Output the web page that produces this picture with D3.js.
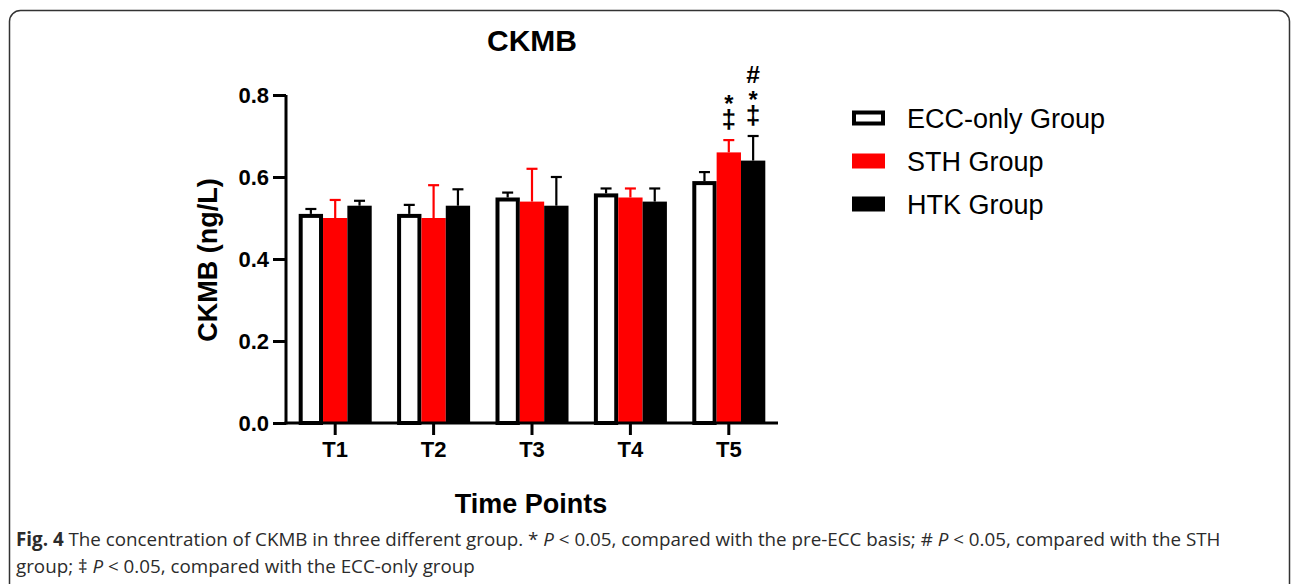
<!DOCTYPE html>
<html>
<head>
<meta charset="utf-8">
<script src="https://cdn.jsdelivr.net/npm/d3@7"></script>
<style>
  body { margin: 0; background: #fff; }
  svg { display: block; }
  .caption { font-family: 'Open Sans', sans-serif; font-size: 18.8px; fill: #2b2b2b; }
</style>
</head>
<body>
<svg id="chart"></svg>
<script>
const SVG_WIDTH = 1292;
const SVG_HEIGHT = 584;

// Data.
const timePoints = ['T1', 'T2', 'T3', 'T4', 'T5'];
const groups = ['ECC-only Group', 'STH Group', 'HTK Group'];
const eccMeans = [0.51, 0.51, 0.55, 0.56, 0.59];
const eccErr = [0.012, 0.022, 0.012, 0.012, 0.022];
const sthMeans = [0.50, 0.50, 0.54, 0.55, 0.66];
const sthErr = [0.044, 0.08, 0.08, 0.022, 0.03];
const htkMeans = [0.53, 0.53, 0.53, 0.54, 0.64];
const htkErr = [0.012, 0.04, 0.07, 0.032, 0.06];
const yTicks = [0, 0.2, 0.4, 0.6, 0.8];
// significance marks, stacked from bottom up
const marks = [
  {time: 'T5', group: 'STH Group', symbols: ['‡', '*']},
  {time: 'T5', group: 'HTK Group', symbols: ['‡', '*', '#']}
];

const fills = {'ECC-only Group': '#fff', 'STH Group': '#ff0000', 'HTK Group': '#000'};
const errColors = {'ECC-only Group': '#000', 'STH Group': '#ff0000', 'HTK Group': '#000'};

// glyph settings: wanted ink height and the gap left above it
const glyphs = {
  '‡': {inkHeight: 21, gapAbove: 5},
  '*': {inkHeight: 9, gapAbove: 8},
  '#': {inkHeight: 17, gapAbove: 8}
};
const MARK_FONT = 'Liberation Sans';

const rows = [];
timePoints.forEach((t, i) => {
  rows.push({time: t, group: groups[0], mean: eccMeans[i], err: eccErr[i]});
  rows.push({time: t, group: groups[1], mean: sthMeans[i], err: sthErr[i]});
  rows.push({time: t, group: groups[2], mean: htkMeans[i], err: htkErr[i]});
});

const svg = d3
  .select('#chart')
  .attr('width', SVG_WIDTH)
  .attr('height', SVG_HEIGHT)
  .attr('viewBox', `0 0 ${SVG_WIDTH} ${SVG_HEIGHT}`);

// Figure frame (runs off the bottom of the picture).
svg.append('rect')
  .attr('x', 9.5).attr('y', 10.5)
  .attr('width', 1280).attr('height', 640)
  .attr('rx', 11)
  .attr('fill', 'none')
  .attr('stroke', '#333')
  .attr('stroke-width', 1.5);

const x0 = d3.scaleBand()
  .domain(timePoints)
  .range([286, 778])
  .paddingInner(0.258)
  .paddingOuter(0.129);

const x1 = d3.scaleBand()
  .domain(groups)
  .range([0, x0.bandwidth()]);

const y = d3.scaleLinear().domain([0, 0.8]).range([423, 95]);

const plot = svg.append('g');

// Error bars (drawn first, bars sit over the lower end).
const err = plot.selectAll('.err')
  .data(rows)
  .join('g')
  .attr('class', 'err')
  .attr('stroke', d => errColors[d.group])
  .attr('stroke-width', 2.2);

err.append('line')
  .attr('x1', d => x0(d.time) + x1(d.group) + x1.bandwidth() / 2)
  .attr('x2', d => x0(d.time) + x1(d.group) + x1.bandwidth() / 2)
  .attr('y1', d => y(d.mean))
  .attr('y2', d => y(d.mean + d.err));

err.append('line')
  .attr('x1', d => x0(d.time) + x1(d.group) + x1.bandwidth() / 2 - 5.5)
  .attr('x2', d => x0(d.time) + x1(d.group) + x1.bandwidth() / 2 + 5.5)
  .attr('y1', d => y(d.mean + d.err))
  .attr('y2', d => y(d.mean + d.err));

// Bars
plot.selectAll('.bar')
  .data(rows)
  .join('rect')
  .attr('class', 'bar')
  .attr('x', d => x0(d.time) + x1(d.group) + (d.group === groups[0] ? 2 : 0))
  .attr('width', d => x1.bandwidth() - (d.group === groups[0] ? 4 : 0))
  .attr('y', d => y(d.mean) + (d.group === groups[0] ? 2 : 0))
  .attr('height', d => y(0) - y(d.mean) - (d.group === groups[0] ? 2 : 0))
  .attr('fill', d => fills[d.group])
  .attr('stroke', d => (d.group === groups[0] ? '#000' : 'none'))
  .attr('stroke-width', 4);

// Significance symbols, stacked by their ink extents.
const ctx = document.createElement('canvas').getContext('2d');
function inkOf(s, size) {
  ctx.font = `bold ${size}px "${MARK_FONT}"`;
  const m = ctx.measureText(s);
  return {asc: m.actualBoundingBoxAscent, desc: m.actualBoundingBoxDescent};
}

marks.forEach(m => {
  const row = rows.find(r => r.time === m.time && r.group === m.group);
  const cx = x0(m.time) + x1(m.group) + x1.bandwidth() / 2;
  let bottom = y(row.mean + row.err) - 10;
  m.symbols.forEach(s => {
    const g = glyphs[s];
    const probe = inkOf(s, 100);
    const size = (100 * g.inkHeight) / (probe.asc + probe.desc);
    const ink = inkOf(s, size);
    plot.append('text')
      .attr('x', cx)
      .attr('y', bottom - ink.desc)
      .attr('text-anchor', 'middle')
      .attr('font-family', MARK_FONT)
      .attr('font-weight', 'bold')
      .attr('font-size', size.toFixed(1))
      .attr('fill', '#000')
      .text(s);
    bottom = bottom - ink.desc - ink.asc - g.gapAbove;
  });
});

// Axes
const axisFont = 'Liberation Sans, Arial, sans-serif';

const yAxis = svg.append('g')
  .attr('transform', 'translate(286,0)')
  .call(d3.axisLeft(y).tickValues(yTicks).tickFormat(d3.format('.1f')).tickSize(13).tickPadding(4));

const xAxis = svg.append('g')
  .attr('transform', 'translate(0,423)')
  .call(d3.axisBottom(x0).tickSize(12).tickPadding(6));

[yAxis, xAxis].forEach(a => {
  a.select('.domain').attr('stroke', '#000').attr('stroke-width', 3);
  a.selectAll('.tick line').attr('stroke', '#000').attr('stroke-width', 3);
  a.selectAll('.tick text')
    .attr('font-family', axisFont)
    .attr('font-weight', 'bold')
    .attr('font-size', 22)
    .attr('fill', '#000');
});
// keep the domain square-ended without outer ticks
yAxis.select('.domain').attr('d', 'M0,95V424.5');
xAxis.select('.domain').attr('d', 'M284.5,0H778');

// Titles
svg.append('text')
  .attr('x', 532).attr('y', 51)
  .attr('text-anchor', 'middle')
  .attr('font-family', axisFont)
  .attr('font-weight', 'bold')
  .attr('font-size', 30)
  .text('CKMB');

svg.append('text')
  .attr('transform', 'translate(217,260) rotate(-90)')
  .attr('text-anchor', 'middle')
  .attr('font-family', axisFont)
  .attr('font-weight', 'bold')
  .attr('font-size', 27)
  .text('CKMB (ng/L)');

svg.append('text')
  .attr('x', 531).attr('y', 513)
  .attr('text-anchor', 'middle')
  .attr('font-family', axisFont)
  .attr('font-weight', 'bold')
  .attr('font-size', 27)
  .text('Time Points');

// Legend
const legend = svg.append('g').attr('transform', 'translate(852,0)');
const legendY = d3.scalePoint().domain(groups).range([118, 204]);
groups.forEach(g => {
  const item = legend.append('g').attr('transform', `translate(0,${legendY(g)})`);
  if (g === groups[0]) {
    item.append('rect')
      .attr('x', 2).attr('y', -5.5).attr('width', 29).attr('height', 11)
      .attr('fill', '#fff').attr('stroke', '#000').attr('stroke-width', 4);
  } else {
    item.append('rect')
      .attr('x', 0).attr('y', -7.5).attr('width', 33).attr('height', 15)
      .attr('fill', fills[g]);
  }
  item.append('text')
    .attr('x', 55).attr('y', 9.5)
    .attr('font-family', axisFont)
    .attr('font-size', 27)
    .attr('fill', '#000')
    .text(g);
});

// Caption
const cap1 = svg.append('text').attr('class', 'caption').attr('x', 16).attr('y', 546);
cap1.append('tspan').attr('font-weight', 'bold').text('Fig. 4');
cap1.append('tspan').text(' The concentration of CKMB in three different group. * ');
cap1.append('tspan').attr('font-style', 'italic').text('P');
cap1.append('tspan').text(' < 0.05, compared with the pre-ECC basis; # ');
cap1.append('tspan').attr('font-style', 'italic').text('P');
cap1.append('tspan').text(' < 0.05, compared with the STH');

const cap2 = svg.append('text').attr('class', 'caption').attr('x', 16).attr('y', 573);
cap2.append('tspan').text('group; ‡ ');
cap2.append('tspan').attr('font-style', 'italic').text('P');
cap2.append('tspan').text(' < 0.05, compared with the ECC-only group');
</script>
</body>
</html>
